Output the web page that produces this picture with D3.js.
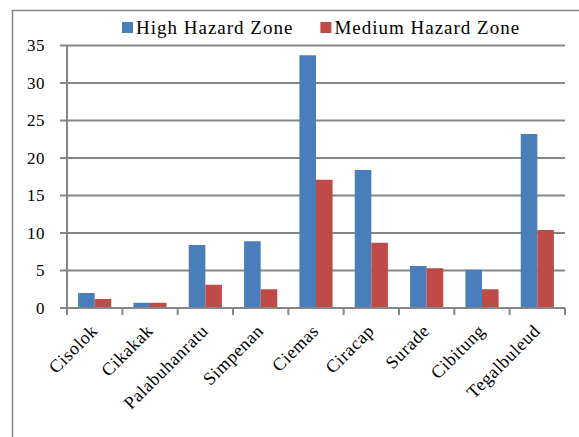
<!DOCTYPE html>
<html>
<head>
<meta charset="utf-8">
<script src="https://cdn.jsdelivr.net/npm/d3@7"></script>
<style>
    body { margin: 0; background: #fff; }
    text { font-family: "Liberation Serif", "DejaVu Serif", serif; fill: #000; }
</style>
</head>
<body>
<svg id="chart" width="579" height="437"></svg>
<script>
const categories = ["Cisolok", "Cikakak", "Palabuhanratu", "Simpenan", "Ciemas", "Ciracap", "Surade", "Cibitung", "Tegalbuleud"];
const seriesNames = ["High Hazard Zone", "Medium Hazard Zone"];
const highHazard = [2.0, 0.7, 8.4, 8.9, 33.7, 18.4, 5.6, 5.1, 23.2];
const mediumHazard = [1.2, 0.7, 3.1, 2.5, 17.1, 8.7, 5.3, 2.5, 10.4];
const yTicks = [0, 5, 10, 15, 20, 25, 30, 35];
const colors = ["#4a7ebb", "#be4b48"];

const svg = d3.select("#chart");
const margin = { top: 45.5, right: 14, bottom: 129, left: 67 };
const width = 579 - margin.left - margin.right;
const height = 437 - margin.top - margin.bottom;

// outer chart border (runs off the right and bottom edges)
svg.append("rect")
    .attr("x", 12.5)
    .attr("y", 10.5)
    .attr("width", 600)
    .attr("height", 500)
    .attr("fill", "none")
    .attr("stroke", "#868686")
    .attr("stroke-width", 1.5);

const g = svg.append("g")
    .attr("transform", `translate(${margin.left},${margin.top})`);

const x0 = d3.scaleBand()
    .domain(categories)
    .range([0, width]);

const x1 = d3.scaleBand()
    .domain(seriesNames)
    .range([x0.bandwidth() * 0.2, x0.bandwidth() * 0.8]);

const y = d3.scaleLinear()
    .domain([0, 35])
    .range([height, 0]);

// gridlines with short tick marks on the left
g.selectAll(".grid")
    .data(yTicks)
    .join("line")
    .attr("x1", -7)
    .attr("x2", width)
    .attr("y1", d => y(d))
    .attr("y2", d => y(d))
    .attr("stroke", "#868686")
    .attr("stroke-width", 2);

// y labels
g.selectAll(".ylabel")
    .data(yTicks)
    .join("text")
    .attr("x", -22)
    .attr("y", d => y(d))
    .attr("dy", "0.35em")
    .attr("text-anchor", "end")
    .attr("font-size", 17)
    .attr("letter-spacing", 0.5)
    .text(d => d);

// bars
const rows = categories.map((c, i) => ({ cat: c, values: [highHazard[i], mediumHazard[i]] }));

const groups = g.selectAll(".cat")
    .data(rows)
    .join("g")
    .attr("transform", d => `translate(${x0(d.cat)},0)`);

groups.selectAll("rect")
    .data(d => d.values.map((v, j) => ({ key: seriesNames[j], value: v, idx: j })))
    .join("rect")
    .attr("x", d => x1(d.key))
    .attr("width", x1.bandwidth())
    .attr("y", d => y(d.value))
    .attr("height", d => height - y(d.value))
    .attr("fill", d => colors[d.idx]);

// axes lines
g.append("line")
    .attr("x1", 0).attr("x2", 0)
    .attr("y1", 0).attr("y2", height + 7)
    .attr("stroke", "#868686")
    .attr("stroke-width", 2);

g.append("line")
    .attr("x1", 0).attr("x2", width)
    .attr("y1", height).attr("y2", height)
    .attr("stroke", "#868686")
    .attr("stroke-width", 2);

// category tick marks at band edges
g.selectAll(".xtick")
    .data(categories)
    .join("line")
    .attr("x1", d => x0(d) + x0.bandwidth())
    .attr("x2", d => x0(d) + x0.bandwidth())
    .attr("y1", height)
    .attr("y2", height + 7)
    .attr("stroke", "#868686")
    .attr("stroke-width", 2);

// category labels, rotated
g.selectAll(".xlabel")
    .data(categories)
    .join("text")
    .attr("text-anchor", "end")
    .attr("font-size", 18)
    .attr("letter-spacing", 0.6)
    .attr("transform", d => `translate(${x0(d) + x0.bandwidth() / 2 + 4},${height + 24}) rotate(-45)`)
    .text(d => d);

// legend
const legend = svg.append("g").attr("transform", "translate(122,18)");
let lx = 0;
seriesNames.forEach((name, i) => {
    legend.append("rect")
        .attr("x", lx)
        .attr("y", 4)
        .attr("width", 11)
        .attr("height", 11)
        .attr("fill", colors[i]);
    const t = legend.append("text")
        .attr("x", lx + 14)
        .attr("y", 16)
        .attr("font-size", 19)
        .attr("letter-spacing", 1)
        .text(name);
    lx += 14 + t.node().getComputedTextLength() + 27;
});
</script>
</body>
</html>
